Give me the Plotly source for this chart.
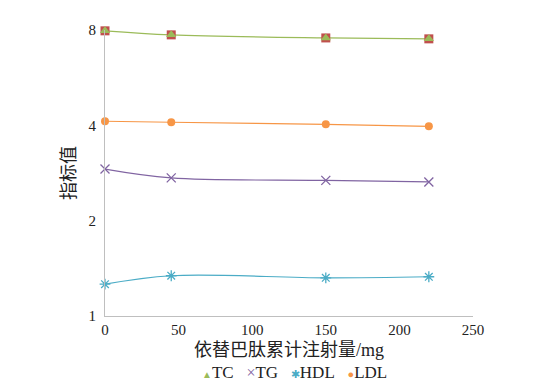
import plotly.graph_objects as go

dose = [0, 45, 150, 220]
tc = [7.95, 7.72, 7.55, 7.5]
tg = [2.91, 2.73, 2.68, 2.65]
hdl = [1.26, 1.34, 1.32, 1.33]
ldl = [4.12, 4.09, 4.03, 3.97]
y_ticks = [1, 2, 4, 8]
x_ticks = [0, 50, 100, 150, 200, 250]

FONT = "'Liberation Serif', 'Times New Roman', 'Noto Sans CJK SC', serif"

series = [
    ("TC", tc, "#9BBB59", "triangle-up", 9, 0, "▲", 10),
    ("TG", tg, "#8064A2", "x-thin-open", 9, 1.3, "×", 16),
    ("HDL", hdl, "#4BACC6", "asterisk-open", 9, 1.3, "✱", 11),
    ("LDL", ldl, "#F79646", "circle", 8, 0, "●", 11),
]

fig = go.Figure()
for name, vals, col, sym, sz, lw, g, gs in series:
    fig.add_trace(go.Scatter(x=dose, y=vals, mode="lines", line=dict(color=col, width=1.2, shape="spline"),
                             showlegend=False, hoverinfo="skip", cliponaxis=False))
# red square behind TC triangle
fig.add_trace(go.Scatter(x=dose, y=tc, mode="markers", marker=dict(symbol="square", size=9, color="#C0504D"),
                         showlegend=False, cliponaxis=False))
for name, vals, col, sym, sz, lw, g, gs in series:
    fig.add_trace(go.Scatter(x=dose, y=vals, mode="markers", name=name, cliponaxis=False, showlegend=False,
                             marker=dict(symbol=sym, size=sz, color=col, line=dict(color=col, width=lw))))

legend_text = "&nbsp;&nbsp;&nbsp;".join(
    f"<span style='color:{col};font-size:{gs}px'>{g}</span>{name}" for name, vals, col, sym, sz, lw, g, gs in series
)
fig.add_annotation(text=legend_text, xref="paper", yref="paper", x=0.514, y=-0.199,
                   xanchor="center", yanchor="middle", showarrow=False,
                   font=dict(family=FONT, size=17, color="#222"))

fig.update_layout(
    width=551, height=390,
    margin=dict(l=97, r=86, t=22, b=82),
    paper_bgcolor="white", plot_bgcolor="white",
    font=dict(family=FONT, size=15, color="#222"),
    showlegend=False,
    xaxis=dict(range=[0, 250], tickvals=x_ticks, showgrid=False, zeroline=False, automargin=False,
               showline=True, linecolor="#BFBFBF", linewidth=1, ticks="",
               title=dict(text="依替巴肽累计注射量/mg", standoff=6, font=dict(size=18))),
    yaxis=dict(type="log", range=[0, 0.903], tickvals=y_ticks, ticktext=[str(v) for v in y_ticks],
               showgrid=False, zeroline=False, showline=True, linecolor="#BFBFBF", linewidth=1,
               ticks="", ticklabelstandoff=5, automargin=False,
               title=dict(text="指标值", standoff=8, font=dict(size=18))),
)
fig.write_html("out.html")
